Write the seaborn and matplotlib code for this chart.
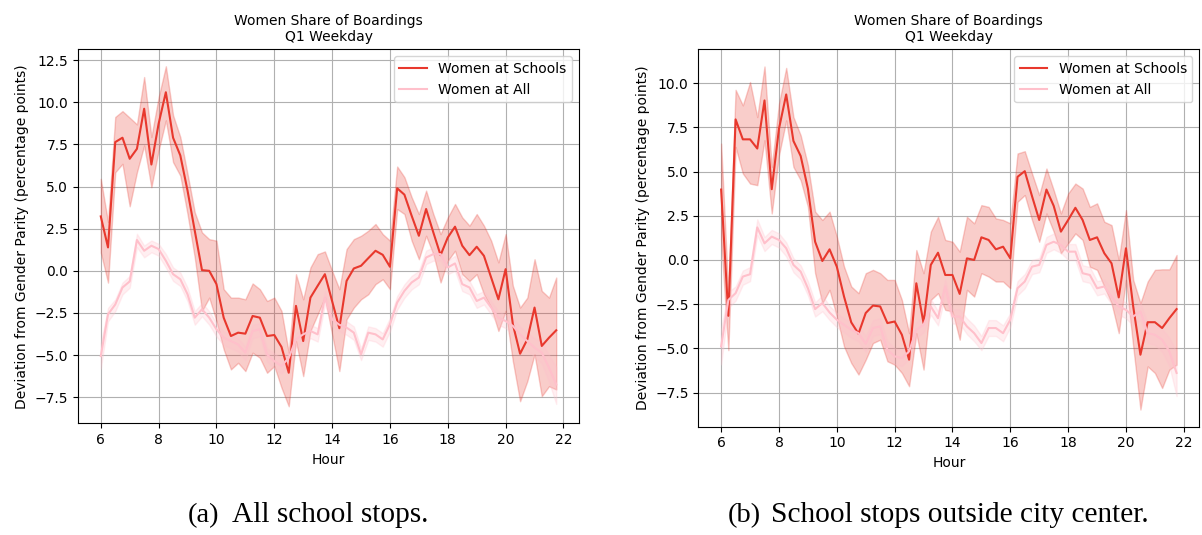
import numpy as np
import pandas as pd
import matplotlib
matplotlib.use("Agg")
import matplotlib.pyplot as plt
import seaborn as sns

# quarter-hour bins, 6:00 .. 21:45
hours = np.arange(6, 22, 0.25)

# ---- panel (a): all school stops ----
a_school_mid = [3.23, 1.39, 7.64, 7.9, 6.65, 7.24, 9.62, 6.31, 8.73, 10.6,
                7.9, 6.85, 4.76, 2.38, 0.04, 0.0, -0.79, -2.78, -3.87, -3.67,
                -3.73, -2.68, -2.78, -3.87, -3.81, -4.52, -6.05, -2.08, -4.17, -1.59,
                -0.89, -0.2, -1.8, -3.41, -0.6, 0.14, 0.3, 0.75, 1.19, 0.95,
                0.24, 4.9, 4.52, 3.27, 2.08, 3.67, 2.28, 0.93, 1.98, 2.62,
                1.49, 0.93, 1.43, 0.89, -0.4, -1.69, 0.1, -3.17, -4.92, -4.07,
                -2.18, -4.46, -3.97, -3.53]
a_school_lo = [1.09, -0.7, 5.85, 6.35, 3.83, 5.85, 7.44, 4.96, 7.14, 8.93,
               6.45, 5.65, 3.37, 0.79, -2.38, -1.59, -2.98, -4.66, -5.85, -5.46,
               -5.95, -4.86, -5.16, -6.05, -5.65, -6.94, -8.04, -4.17, -6.25, -3.57,
               -2.58, -1.59, -3.77, -5.95, -2.88, -2.18, -1.69, -1.39, -0.79, -0.5,
               -1.09, 3.67, 3.37, 1.79, 0.69, 2.08, 0.99, -0.69, 0.6, 1.19,
               -0.2, -0.6, -0.2, -1.39, -2.18, -3.57, -2.38, -5.36, -7.74, -6.55,
               -4.96, -7.44, -6.85, -7.04]
a_school_hi = [5.46, 2.9, 9.13, 9.48, 9.09, 8.69, 11.5, 7.94, 10.3, 12.14,
               9.23, 7.94, 5.75, 3.47, 2.28, 1.88, 1.79, -1.09, -1.59, -1.59,
               -1.69, -0.75, -1.09, -1.79, -1.59, -2.38, -4.86, -0.2, -1.69, 0.2,
               0.99, 1.15, 0.0, -1.09, 1.29, 1.88, 2.08, 2.38, 2.78, 2.18,
               1.79, 6.19, 5.56, 4.37, 3.37, 4.76, 3.37, 2.18, 3.17, 3.97,
               3.17, 2.68, 3.37, 2.68, 1.79, 0.5, 2.18, -0.89, -2.18, -1.59,
               0.69, -1.19, -1.59, -0.4]

a_all_mid = [-5.06, -2.58, -2.0, -0.99, -0.63, 1.83, 1.19, 1.49, 1.29, 0.6,
             -0.2, -0.5, -1.39, -2.78, -2.28, -2.78, -3.47, -3.97, -4.17, -4.37,
             -4.86, -3.57, -3.47, -4.96, -5.36, -5.65, -5.16, -4.07, -3.77, -3.57,
             -3.77, -1.59, -2.88, -3.2, -3.37, -3.67, -4.96, -3.67, -3.77, -4.07,
             -3.17, -1.88, -1.19, -0.69, -0.4, 0.79, 0.99, 0.99, 0.2, 0.44,
             -0.79, -0.99, -1.79, -1.59, -2.18, -2.78, -2.98, -3.27, -3.77, -4.17,
             -4.56, -4.86, -5.75, -6.75]
a_all_lo = [-5.8, -3.0, -2.4, -1.4, -1.0, 1.4, 0.8, 1.1, 0.9, 0.2,
            -0.6, -0.9, -1.8, -3.2, -2.7, -3.2, -3.9, -4.4, -4.6, -4.8,
            -5.3, -4.0, -3.9, -5.4, -5.8, -6.1, -5.6, -4.5, -4.2, -4.0,
            -4.2, -2.0, -3.3, -3.6, -3.8, -4.1, -5.3, -4.1, -4.2, -4.5,
            -3.6, -2.3, -1.6, -1.1, -0.8, 0.4, 0.6, 0.6, -0.2, 0.0,
            -1.2, -1.4, -2.2, -2.0, -2.6, -3.2, -3.4, -3.8, -4.3, -4.7,
            -5.1, -5.5, -6.6, -7.9]
a_all_hi = [-4.3, -2.2, -1.7, -0.7, -0.3, 2.2, 1.5, 1.8, 1.6, 1.0,
            0.2, -0.1, -1.0, -2.4, -1.9, -2.4, -3.1, -3.6, -3.8, -4.0,
            -4.5, -3.2, -3.1, -4.6, -4.9, -5.2, -4.7, -3.7, -3.4, -3.2,
            -3.4, -1.2, -2.5, -2.8, -3.0, -3.3, -4.6, -3.3, -3.4, -3.7,
            -2.8, -1.5, -0.8, -0.3, 0.0, 1.2, 1.4, 1.4, 0.6, 0.9,
            -0.4, -0.6, -1.4, -1.2, -1.8, -2.4, -2.6, -2.8, -3.3, -3.7,
            -4.0, -4.2, -5.0, -5.7]

# ---- panel (b): school stops outside city center ----
b_school_mid = [3.98, -3.16, 7.95, 6.82, 6.82, 6.3, 9.02, 4.0, 7.42, 9.36,
                6.73, 5.88, 4.04, 1.03, -0.06, 0.6, -0.38, -2.07, -3.53, -4.17,
                -3.0, -2.58, -2.63, -3.57, -3.48, -4.23, -5.64, -1.32, -3.57, -0.28,
                0.41, -0.85, -0.85, -1.92, 0.09, 0.0, 1.28, 1.13, 0.6, 0.75,
                0.09, 4.7, 5.02, 3.61, 2.26, 3.98, 3.06, 1.6, 2.26, 2.95,
                2.26, 1.13, 1.28, 0.38, -0.19, -2.12, 0.66, -2.63, -5.36, -3.52,
                -3.52, -3.85, -3.29, -2.78]
b_school_lo = [1.13, -5.1, 6.39, 4.89, 4.32, 4.23, 6.77, 2.63, 5.92, 7.89,
               5.26, 4.51, 3.01, -0.75, -2.44, -1.69, -3.2, -4.89, -5.83, -6.48,
               -5.64, -4.7, -4.51, -5.73, -5.92, -6.39, -7.14, -4.14, -6.2, -2.26,
               -1.88, -2.82, -2.91, -4.51, -1.69, -2.07, -0.75, -0.94, -1.22, -1.22,
               -1.6, 3.29, 3.67, 2.26, 1.03, 2.63, 1.6, 0.38, 0.94, 1.5,
               1.13, -0.38, -0.56, -1.5, -2.44, -4.14, -1.13, -4.89, -8.46, -6.02,
               -6.39, -7.24, -6.2, -5.92]
b_school_hi = [6.58, -1.9, 9.62, 8.74, 10.06, 8.08, 10.94, 5.26, 8.83, 10.86,
               8.08, 7.05, 5.36, 2.73, 2.26, 2.73, 1.32, -0.38, -1.5, -1.88,
               -0.75, -0.56, -0.75, -1.13, -1.13, -2.26, -4.14, 0.56, -0.75, 1.6,
               2.44, 1.13, 1.03, 0.47, 2.44, 2.07, 3.1, 3.0, 2.35, 2.26,
               2.07, 6.02, 6.15, 4.89, 3.67, 5.17, 3.95, 2.63, 3.76, 4.32,
               4.04, 3.0, 3.2, 2.16, 1.97, 0.0, 2.82, -1.13, -2.44, -1.22,
               -0.56, -0.53, -0.53, 0.28]

b_all_mid = [-4.89, -2.26, -1.88, -0.94, -0.81, 1.84, 0.94, 1.32, 1.13, 0.66,
             -0.28, -0.66, -1.6, -2.78, -2.44, -2.97, -3.38, -3.67, -3.95, -4.14,
             -4.74, -3.85, -3.76, -5.08, -5.45, -5.55, -5.17, -3.95, -3.67, -2.63,
             -3.29, -1.5, -3.2, -3.2, -3.76, -4.14, -4.7, -3.85, -3.85, -4.14,
             -3.38, -1.6, -1.22, -0.38, -0.28, 0.85, 1.03, 0.85, 0.47, 0.47,
             -0.75, -0.85, -1.6, -1.5, -2.07, -2.63, -2.82, -3.2, -2.91, -4.14,
             -4.23, -4.51, -5.17, -6.39]
b_all_lo = [-5.9, -2.7, -2.3, -1.4, -1.2, 1.4, 0.5, 0.9, 0.7, 0.2,
            -0.7, -1.1, -2.0, -3.2, -2.9, -3.4, -3.8, -4.1, -4.4, -4.6,
            -5.2, -4.3, -4.2, -5.5, -5.9, -6.0, -5.6, -4.4, -4.1, -3.1,
            -3.7, -2.0, -3.6, -3.6, -4.2, -4.6, -5.1, -4.3, -4.3, -4.6,
            -3.8, -2.0, -1.6, -0.8, -0.7, 0.4, 0.6, 0.4, 0.0, 0.0,
            -1.2, -1.3, -2.0, -1.9, -2.5, -3.1, -3.3, -3.7, -3.4, -4.7,
            -4.8, -5.2, -6.0, -7.7]
b_all_hi = [-3.9, -1.8, -1.5, -0.6, -0.4, 2.3, 1.3, 1.7, 1.5, 1.0,
            0.1, -0.3, -1.2, -2.4, -2.0, -2.6, -3.0, -3.3, -3.5, -3.7,
            -4.3, -3.4, -3.3, -4.6, -5.0, -5.1, -4.7, -3.5, -3.2, -2.2,
            -2.9, -1.1, -2.8, -2.8, -3.3, -3.7, -4.3, -3.4, -3.4, -3.7,
            -3.0, -1.2, -0.8, 0.0, 0.1, 1.3, 1.5, 1.3, 0.9, 0.9,
            -0.3, -0.4, -1.2, -1.1, -1.6, -2.2, -2.4, -2.7, -2.4, -3.6,
            -3.7, -3.9, -4.4, -5.2]

series_names = ["Women at Schools", "Women at All"]
colors = {"Women at Schools": "#e8382d", "Women at All": "pink"}
cap_labels = ["(a)", "(b)"]
cap_texts = ["All school stops.", "School stops outside city center."]

panels = [
    {"Women at Schools": (a_school_lo, a_school_mid, a_school_hi),
     "Women at All": (a_all_lo, a_all_mid, a_all_hi)},
    {"Women at Schools": (b_school_lo, b_school_mid, b_school_hi),
     "Women at All": (b_all_lo, b_all_mid, b_all_hi)},
]


def long_frame(panel):
    # three rows per bin (low, centre, high): median -> line, full range -> band
    rows = []
    for name in series_names:
        for arr in panel[name]:
            rows.append(pd.DataFrame({"Hour": hours, "val": arr, "series": name}))
    return pd.concat(rows, ignore_index=True)


fs = 10
fig = plt.figure(figsize=(12.02, 5.35), dpi=100)
axes_pos = [[0.0649, 0.2088, 0.4168, 0.6991],
            [0.5810, 0.2024, 0.4168, 0.7054]]
lab_x = [0.1564, 0.6057]
txt_x = [0.1930, 0.6415]
serif = ["Liberation Serif", "DejaVu Serif"]

for i, panel in enumerate(panels):
    ax = fig.add_axes(axes_pos[i])
    df = long_frame(panel)
    sns.lineplot(data=df, x="Hour", y="val", hue="series", hue_order=series_names,
                 palette=colors, estimator="median", errorbar=("pi", 100),
                 err_kws={"alpha": 0.25}, linewidth=1.5, ax=ax)
    ax.grid(True, color="#b0b0b0", linewidth=0.8)
    ax.set_axisbelow(True)
    ax.set_xticks(range(6, 23, 2))
    ax.tick_params(labelsize=fs)
    ax.set_xlabel("Hour", fontsize=fs)
    ax.set_ylabel("Deviation from Gender Parity (percentage points)", fontsize=fs)
    ax.set_title("Women Share of Boardings\nQ1 Weekday", fontsize=fs)
    ax.legend(loc="upper right", fontsize=fs)
    fig.text(lab_x[i], 0.037, cap_labels[i], ha="left", va="center",
             fontsize=20.5, family=serif)
    fig.text(txt_x[i], 0.037, cap_texts[i], ha="left", va="center",
             fontsize=21.2, family=serif)

fig.savefig("out.png", dpi=100)
